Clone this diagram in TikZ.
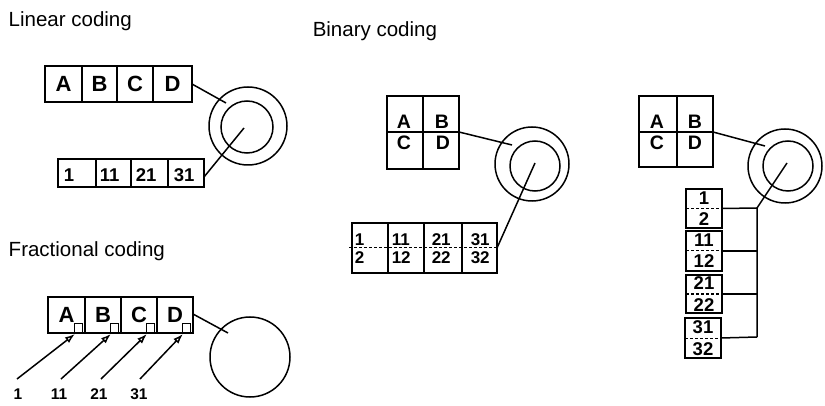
\documentclass[tikz,border=0pt]{standalone}
\usepackage{fontspec}
\setmainfont{Liberation Sans}
\usetikzlibrary{arrows.meta}
\tikzset{
  bx/.style={draw, rectangle, inner sep=0pt, outer sep=0pt, anchor=north west},
  ring/.style={draw, circle, inner sep=0pt, outer sep=0pt},
  ttl/.style={anchor=base west, inner sep=0pt, font=\fontsize{20.5}{22}\selectfont},
  bigl/.style={font=\fontsize{22}{24}\selectfont\bfseries},
  lab/.style={anchor=base west, inner sep=0pt},
  labc/.style={anchor=base, inner sep=0pt},
  dg16/.style={font=\fontsize{18.5}{20}\selectfont\bfseries},
  dg14/.style={font=\fontsize{17}{19}\selectfont\bfseries},
  dg13/.style={font=\fontsize{15.5}{17}\selectfont\bfseries},
  lt17/.style={font=\fontsize{19.5}{21}\selectfont\bfseries},
  smsq/.style={draw, rectangle, inner sep=0pt, minimum width=8pt, minimum height=9pt, anchor=south east, line width=1.1pt},
  arr/.style={-{Latex[open, length=10pt, width=7pt]}},
  dsh/.style={dashed, line width=1pt, dash pattern=on 3pt off 2pt}
}
\begin{document}
\begin{tikzpicture}[x=1pt, y=-1pt, line width=1.5pt]
\useasboundingbox (0,0) rectangle (825,406);

% ---------------- Linear coding ----------------
\node[ttl] (tlin) at (8,27) {Linear coding};
\node[bx, bigl, minimum width=37pt, minimum height=36pt] (la) at (45,66) {A};
\node[bx, bigl, minimum width=35pt, minimum height=36pt] (lb) at (82,66) {B};
\node[bx, bigl, minimum width=36pt, minimum height=36pt] (lc) at (117,66) {C};
\node[bx, bigl, minimum width=39pt, minimum height=36pt] (ld) at (153,66) {D};

\node[bx, minimum width=38pt, minimum height=28pt] (l1) at (58,159) {};
\node[bx, minimum width=35pt, minimum height=28pt] (l2) at (96,159) {};
\node[bx, minimum width=37pt, minimum height=28pt] (l3) at (131,159) {};
\node[bx, minimum width=36pt, minimum height=28pt] (l4) at (168,159) {};
\node[lab, dg16] (l1t) at (63,182) {1};
\node[lab, dg16] (l2t) at (99,182) {11};
\node[lab, dg16] (l3t) at (135,182) {21};
\node[lab, dg16] (l4t) at (173,182) {31};

\node[ring, minimum size=78pt] (lco) at (248,126) {};
\node[ring, minimum size=52pt] (lci) at (247,127) {};
\coordinate (lp1) at (226,103);
\coordinate (lp2) at (244,128);
\draw (ld.east) -- (lp1);
\draw ([yshift=-4pt]l4.east) -- (lp2);

% ---------------- Fractional coding ----------------
\node[ttl] (tfra) at (8,257) {Fractional coding};
\node[bx, bigl, minimum width=37pt, minimum height=36pt] (fa) at (48,297) {A};
\node[bx, bigl, minimum width=36pt, minimum height=36pt] (fb) at (85,297) {B};
\node[bx, bigl, minimum width=36pt, minimum height=36pt] (fc) at (121,297) {C};
\node[bx, bigl, minimum width=36pt, minimum height=36pt] (fd) at (157,297) {D};
\node[smsq] (q1) at (83,333) {};
\node[smsq] (q2) at (119,333) {};
\node[smsq] (q3) at (155,333) {};
\node[smsq] (q4) at (191,333) {};

\node[labc, dg13] (f1) at (18,399) {1};
\node[labc, dg13] (f2) at (59,399) {11};
\node[labc, dg13] (f3) at (99,399) {21};
\node[labc, dg13] (f4) at (139,399) {31};
\coordinate (fs1) at (17,379);
\coordinate (fs2) at (61,379);
\coordinate (fs3) at (101,379);
\coordinate (fs4) at (140,379);
\draw[arr] (fs1) -- ([xshift=1pt,yshift=-1pt]q1.south west);
\draw[arr] (fs2) -- ([xshift=1pt,yshift=-1pt]q2.south west);
\draw[arr] (fs3) -- ([xshift=1pt,yshift=-1pt]q3.south west);
\draw[arr] (fs4) -- ([xshift=1pt,yshift=-1pt]q4.south west);

\node[ring, minimum size=80pt] (fco) at (250,357) {};
\coordinate (fp1) at (228,333);
\draw ([yshift=1pt]fd.east) -- (fp1);

% ---------------- Binary coding ----------------
\node[ttl] (tbin) at (312,37) {Binary coding};
\node[bx, minimum width=36pt, minimum height=36pt] (ba) at (387,96) {};
\node[bx, minimum width=36pt, minimum height=36pt] (bb) at (423,96) {};
\node[bx, minimum width=36pt, minimum height=37pt] (bc) at (387,132) {};
\node[bx, minimum width=36pt, minimum height=37pt] (bd) at (423,132) {};
\node[labc, lt17] (bat) at (404,129) {A};
\node[labc, lt17] (bbt) at (442,129) {B};
\node[labc, lt17] (bct) at (404,150) {C};
\node[labc, lt17] (bdt) at (443,150) {D};

\node[bx, minimum width=36pt, minimum height=50pt] (b1) at (352,223) {};
\node[bx, minimum width=36pt, minimum height=50pt] (b2) at (388,223) {};
\node[bx, minimum width=38pt, minimum height=50pt] (b3) at (424,223) {};
\node[bx, minimum width=35pt, minimum height=50pt] (b4) at (462,223) {};
\draw[dsh] ([xshift=-3pt]b1.west) -- (b4.east);
\node[lab, dg14] (b1u) at (354,246) {1};
\node[lab, dg14] (b1d) at (354,264) {2};
\node[lab, dg14] (b2u) at (391,246) {11};
\node[lab, dg14] (b2d) at (391,264) {12};
\node[lab, dg14] (b3u) at (431,246) {21};
\node[lab, dg14] (b3d) at (431,264) {22};
\node[lab, dg14] (b4u) at (470,246) {31};
\node[lab, dg14] (b4d) at (470,264) {32};

\node[ring, minimum size=74pt] (bco) at (532,164) {};
\node[ring, minimum size=50pt] (bci) at (535,166) {};
\coordinate (bp1) at (512,145);
\coordinate (bp2) at (535,163);
\draw (bb.south east) -- (bp1);
\draw (b4.east) -- (bp2);

% ---------------- Binary coding, stacked ----------------
\node[bx, minimum width=38pt, minimum height=36pt] (ra) at (639,96) {};
\node[bx, minimum width=36pt, minimum height=36pt] (rb) at (677,96) {};
\node[bx, minimum width=38pt, minimum height=35pt] (rc) at (639,132) {};
\node[bx, minimum width=36pt, minimum height=35pt] (rd) at (677,132) {};
\node[labc, lt17] (rat) at (657,129) {A};
\node[labc, lt17] (rbt) at (695,129) {B};
\node[labc, lt17] (rct) at (657,150) {C};
\node[labc, lt17] (rdt) at (695,150) {D};

\node[ring, minimum size=74pt] (rco) at (785,166) {};
\node[ring, minimum size=50pt] (rci) at (788,166) {};
\coordinate (rp1) at (765,146);
\coordinate (rp2) at (787,163);
\draw (rb.south east) -- (rp1);

\node[bx, minimum width=36pt, minimum height=39pt] (s1) at (686,189) {};
\node[bx, minimum width=36pt, minimum height=40pt] (s2) at (686,231) {};
\node[bx, minimum width=36pt, minimum height=38pt] (s3) at (686,275) {};
\node[bx, minimum width=36pt, minimum height=40pt] (s4) at (685,318) {};
\draw[dsh] (s1.west) -- (s1.east);
\draw[dsh] (s2.west) -- (s2.east);
\draw[dsh] (s3.west) -- (s3.east);
\draw[dsh] (s4.west) -- (s4.east);
\node[labc, dg16] (s1u) at (704,205) {1};
\node[labc, dg16] (s1d) at (704,226) {2};
\node[labc, dg16] (s2u) at (704,247) {11};
\node[labc, dg16] (s2d) at (704,268) {12};
\node[labc, dg16] (s3u) at (704,290) {21};
\node[labc, dg16] (s3d) at (704,311) {22};
\node[labc, dg16] (s4u) at (703,333) {31};
\node[labc, dg16] (s4d) at (703,355) {32};

\coordinate (j1) at (757,208);
\coordinate (j2) at (757,251);
\coordinate (j3) at (757,294);
\coordinate (j4) at (757,337);
\draw (rp2) -- (j1) -- (j4);
\draw (s1.east) -- (j1);
\draw (s2.east) -- (j2);
\draw (s3.east) -- (j3);
\draw (s4.east) -- (j4);
\end{tikzpicture}
\end{document}
